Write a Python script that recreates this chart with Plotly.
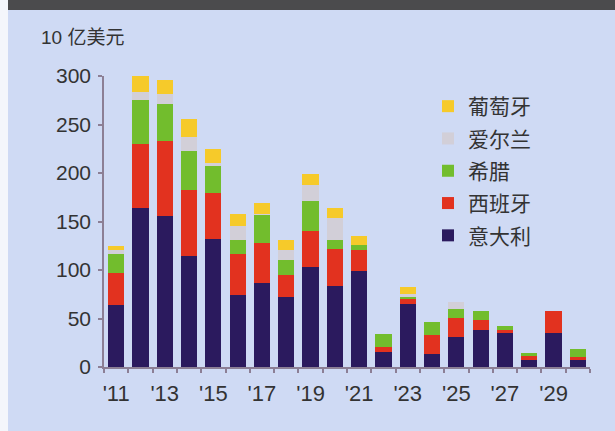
import plotly.graph_objects as go

# Annual bond redemptions by country, in billions of US dollars
years = list(range(2011, 2031))
italy = [64, 164, 156, 114, 132, 74, 87, 72, 103, 84, 99, 15, 65, 13, 31, 38, 35, 7, 35, 7]
spain = [33, 66, 77, 68, 47, 42, 41, 23, 37, 38, 22, 6, 5, 20, 20, 10, 3, 4, 23, 3]
greece = [19, 45, 38, 41, 29, 15, 29, 15, 31, 9, 5, 13, 3, 13, 9, 10, 4, 3, 0, 9]
ireland = [5, 9, 10, 14, 2, 14, 1, 11, 17, 23, 0, 0, 2, 0, 7, 0, 0, 0, 0, 0]
portugal = [4, 16, 15, 19, 15, 13, 11, 10, 11, 10, 9, 0, 7, 0, 0, 0, 0, 0, 0, 0]

series = [
    ("意大利", italy, "#2b1a5e"),
    ("西班牙", spain, "#e2321f"),
    ("希腊", greece, "#72bd2d"),
    ("爱尔兰", ireland, "#d2cfd8"),
    ("葡萄牙", portugal, "#f6ca2a"),
]

tick_years = [y for y in years if y % 2 == 1]
tick_text = ["'%02d" % (y % 100) for y in tick_years]
y_ticks = [0, 50, 100, 150, 200, 250, 300]

BG = "#cfdaf4"
AXIS = "#8c7f95"
TEXT = "#333333"
FONT = "Liberation Sans, Arial, Noto Sans CJK SC"

fig = go.Figure()
# stacked bottom-up; legend lists the top segment first
for i, (name, vals, color) in enumerate(series):
    fig.add_trace(go.Bar(
        x=years, y=vals, name=name, legendgroup=name,
        legendrank=1000 - i,
        marker=dict(color=color, line=dict(width=0)),
    ))

W, H = 615, 431
L, R, T, B = 104, 25, 76, 64
pw, ph = W - L - R, H - T - B


def px_x(p):
    return (p - L) / pw


def px_y(p):
    return (H - B - p) / ph


fig.update_layout(
    width=W, height=H,
    margin=dict(l=L, r=R, t=T, b=B),
    barmode="stack", bargap=0.33,
    paper_bgcolor=BG, plot_bgcolor=BG,
    font=dict(family=FONT, color=TEXT, size=19),
    showlegend=True,
    legend=dict(
        traceorder="grouped", tracegroupgap=2,
        x=px_x(428), y=px_y(86), xanchor="left", yanchor="top",
        bgcolor="rgba(0,0,0,0)", font=dict(size=21, color=TEXT),
    ),
    xaxis=dict(
        range=[2010.5, 2030.5], tickvals=tick_years, ticktext=tick_text,
        ticks="", showgrid=False, zeroline=False,
        showline=True, linecolor=AXIS, linewidth=1.5,
        tickfont=dict(size=22, color=TEXT), ticklabelstandoff=6,
        minor=dict(tickvals=[y + 0.5 for y in [2010] + years], ticks="outside",
                   ticklen=4, tickcolor=AXIS, tickwidth=1.5),
    ),
    yaxis=dict(
        range=[0, 300], tickvals=y_ticks, ticks="outside", ticklen=4,
        tickcolor=AXIS, tickwidth=1.5, showgrid=False, zeroline=False,
        showline=True, linecolor=AXIS, linewidth=1.5,
        tickfont=dict(size=21, color=TEXT), ticklabelstandoff=3,
    ),
    shapes=[
        dict(type="rect", xref="paper", yref="paper",
             x0=px_x(8), x1=px_x(W), y0=px_y(10), y1=px_y(0),
             fillcolor="#4b4b4d", line=dict(width=0), layer="above"),
        dict(type="rect", xref="paper", yref="paper",
             x0=px_x(0), x1=px_x(8), y0=px_y(H), y1=px_y(0),
             fillcolor="#f4f6fb", line=dict(width=0), layer="above"),
    ],
    annotations=[dict(
        text="10 亿美元", xref="paper", yref="paper",
        x=px_x(39), y=px_y(37), xanchor="left", yanchor="middle",
        showarrow=False, font=dict(size=19, color=TEXT),
    )],
)

fig.write_html("out.html")
